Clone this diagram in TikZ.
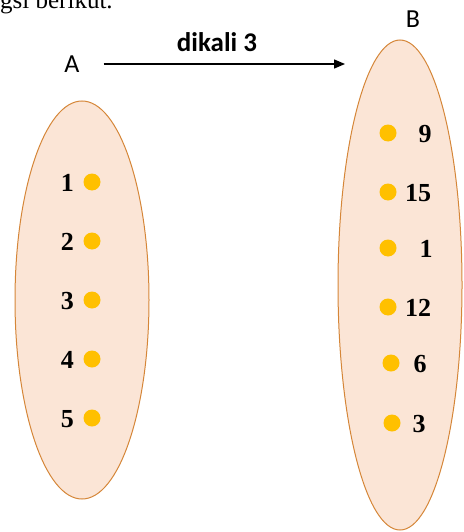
\documentclass[tikz,border=0pt]{standalone}
\usepackage{fontspec}
\setmainfont{Liberation Serif}
\setsansfont{Carlito}
\usetikzlibrary{shapes.geometric,arrows.meta,positioning}
\definecolor{setfill}{HTML}{FBE5D6}
\definecolor{setline}{HTML}{D58638}
\definecolor{dotgold}{HTML}{FFC000}
\tikzset{
	himpunan/.style={ellipse, draw=setline, fill=setfill, line width=1pt, inner sep=0pt},
	titik/.style={circle, fill=dotgold, inner sep=0pt, minimum size=17pt},
	angka/.style={font=\fontsize{26}{26}\selectfont\bfseries, inner sep=0pt},
	judul/.style={font=\sffamily\fontsize{26}{26}\selectfont, inner sep=0pt},
}

\begin{document}
\begin{tikzpicture}[x=1pt, y=-1pt]
		%%%%% START %%%%%
		\useasboundingbox (0, 0) rectangle (463, 532);
		
		\node[font=\fontsize{25}{25}\selectfont, inner sep=0pt, anchor=base west] (teks) at (0, 9) {gsi berikut.};
		
		% the two sets
		\node[himpunan, minimum width=134, minimum height=398] (setA) at (82, 300) {};
		\node[himpunan, minimum width=124, minimum height=490] (setB) at (400, 285) {};
		
		\node[judul, anchor=base] (A) at (72, 73) {A};
		\node[judul, anchor=base] (B) at (413, 28) {B};
		
		% arrow between the sets
		\coordinate (ujung) at (345, 64);
		\draw[line width=1.4pt, -{Triangle[length=11pt, width=9pt]}] (A.east |- ujung) ++(24, 0) coordinate (pangkal) -- (ujung);
		\node[judul, font=\sffamily\bfseries\fontsize{27}{27}\selectfont, anchor=base] (aturan) at (217, 52) {dikali 3};
		
		% members of A
		\foreach \n [count=\i] in {1, 2, 3, 4, 5} {
			\node[titik] (a\i) at (92, {182 + 59*(\i-1)}) {};
			\node[angka, anchor=base east] (la\i) at ({83 - 9}, {191 + 59*(\i-1)}) {\n};
		}
		
		% members of B
		\foreach \y/\xd/\xn/\n [count=\i] in {133/388/425/9, 192/388/418/15, 248/388/426/1, 307/388/418/12, 363/391/420/6, 423/392/419/3} {
			\node[titik] (b\i) at (\xd, \y) {};
			\node[angka, anchor=base] (lb\i) at (\xn, \y + 9) {\n};
		}
		
		%%%%% END %%%%%
	\end{tikzpicture}
\end{document}
